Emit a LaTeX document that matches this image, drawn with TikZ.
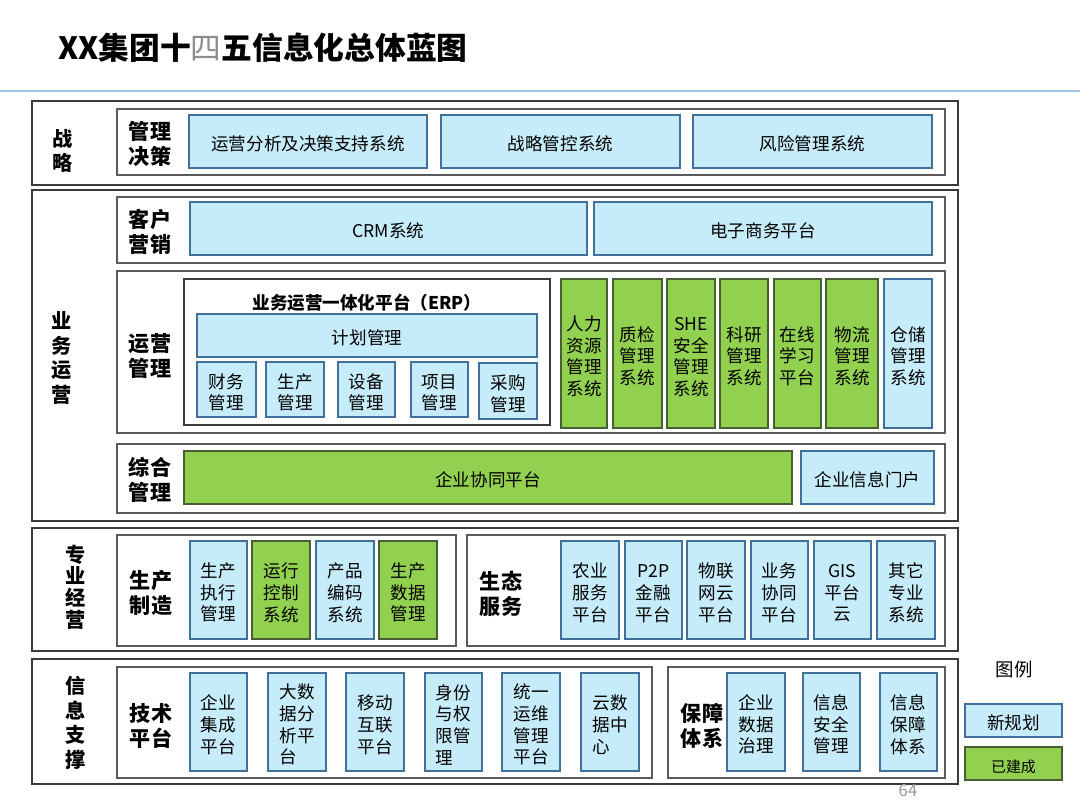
\documentclass[tikz,border=0pt]{standalone}
\usepackage{fontspec}
\setmainfont{Noto Sans CJK SC}
\usetikzlibrary{positioning}
\definecolor{planfill}{HTML}{C6ECFA}
\definecolor{planedge}{HTML}{41709A}
\definecolor{donefill}{HTML}{92D050}
\definecolor{doneedge}{HTML}{4A5E36}
\definecolor{framecol}{HTML}{3A3A3A}
\definecolor{groupcol}{HTML}{5A5A5A}
\definecolor{rulecol}{HTML}{9DC3E6}
\tikzset{
  layerbox/.style={draw=framecol, line width=0.9pt, fill=white, inner sep=0pt},
  groupbox/.style={draw=groupcol, line width=0.8pt, fill=white, inner sep=0pt},
  newsys/.style={
    draw=planedge,
    line width=0.6pt,
    fill=planfill,
    inner sep=0pt,
    align=center,
    font=\fontsize{10}{12.3}\selectfont
  },
  oldsys/.style={newsys, draw=doneedge, fill=donefill},
  layertitle/.style={align=center, font=\fontsize{11.5}{14}\selectfont\bfseries},
  grouptitle/.style={align=center, font=\fontsize{12}{14.2}\selectfont\bfseries}
}
% box from its corners (px): style, name, x1, y1, x2, y2, text
\newcommand{\blk}[7]{%
  \node[#1,minimum width={(#5-#3)*0.02cm},minimum height={(#6-#4)*0.02cm}]
    (#2) at ({(#3+#5)/2},{(#4+#6)/2}) {\rule{0pt}{11.5pt}#7};}

\begin{document}
\begin{tikzpicture}[x=0.02cm,y=-0.02cm]
\useasboundingbox (0,0) rectangle (1080,810);
% title
\node[anchor=west,font=\fontsize{17.5}{20}\selectfont\bfseries] (title) at (52,48)
  {XX集团十{\mdseries\color{black!45}四}五信息化总体蓝图};
\coordinate (ruleL) at (0,91);
\coordinate (ruleR) at (1080,91);
\draw[rulecol,line width=0.7pt] (ruleL) -- (ruleR);

% layers
\blk{layerbox}{strat}{32}{101}{958}{185}{}
\blk{layerbox}{biz}{32}{190}{958}{521}{}
\blk{layerbox}{prof}{32}{528}{958}{651}{}
\blk{layerbox}{info}{32}{659}{958}{784}{}
\node[layertitle] (stratLbl) at (63,151) {战\\略};
\node[layertitle] (bizLbl) at (62,358) {业\\务\\运\\营};
\node[layertitle,font=\fontsize{11.5}{12.4}\selectfont\bfseries] (profLbl) at (76,587) {专\\业\\经\\营};
\node[layertitle] (infoLbl) at (76,723) {信\\息\\支\\撑};

% strategy
\blk{groupbox}{decGrp}{117}{109}{945}{175}{}
\node[grouptitle] (decLbl) at (150,144) {管理\\决策};
\blk{newsys}{decSupport}{189}{115}{427}{168}{运营分析及决策支持系统}
\blk{newsys}{stratCtrl}{441}{115}{680}{168}{战略管控系统}
\blk{newsys}{riskMgmt}{693}{115}{932}{168}{风险管理系统}

% customer marketing
\blk{groupbox}{mktGrp}{117}{197}{945}{263}{}
\node[grouptitle] (mktLbl) at (150,232) {客户\\营销};
\blk{newsys}{crm}{190}{202}{587}{255}{CRM系统}
\blk{newsys}{ecom}{594}{202}{932}{255}{电子商务平台}

% operations
\blk{groupbox}{opsGrp}{117}{271}{945}{433}{}
\node[grouptitle] (opsLbl) at (150,356) {运营\\管理};
\blk{groupbox,draw=framecol}{erp}{184}{279}{550}{425}{}
\node[font=\fontsize{10}{12}\selectfont\bfseries] (erpLbl) at (367,303) {业务运营一体化平台（ERP）};
\blk{newsys}{plan}{197}{314}{537}{357}{计划管理}
\blk{newsys}{fin}{197}{362}{256}{417}{财务\\管理}
\blk{newsys}{prodM}{266}{362}{324}{417}{生产\\管理}
\blk{newsys}{equip}{338}{362}{395}{417}{设备\\管理}
\blk{newsys}{proj}{411}{362}{468}{417}{项目\\管理}
\blk{newsys}{purch}{479}{363}{537}{419}{采购\\管理}
\blk{oldsys}{hr}{561}{279}{607}{428}{人力\\资源\\管理\\系统}
\blk{oldsys}{qc}{613}{279}{662}{428}{质检\\管理\\系统}
\blk{oldsys}{she}{667}{279}{715}{428}{SHE\\安全\\管理\\系统}
\blk{oldsys}{rnd}{720}{279}{768}{428}{科研\\管理\\系统}
\blk{oldsys}{elearn}{774}{279}{821}{428}{在线\\学习\\平台}
\blk{oldsys}{logi}{826}{279}{878}{428}{物流\\管理\\系统}
\blk{newsys}{store}{884}{279}{932}{428}{仓储\\管理\\系统}

% general management
\blk{groupbox}{genGrp}{117}{444}{945}{513}{}
\node[grouptitle] (genLbl) at (150,480) {综合\\管理};
\blk{oldsys}{collab}{184}{451}{792}{504}{企业协同平台}
\blk{newsys}{portal}{801}{451}{934}{504}{企业信息门户}

% production
\blk{groupbox}{mfgGrp}{117}{535}{456}{646}{}
\node[grouptitle] (mfgLbl) at (151,593) {生产\\制造};
\blk{newsys}{mes}{190}{541}{247}{639}{生产\\执行\\管理}
\blk{oldsys}{runCtrl}{252}{541}{310}{639}{运行\\控制\\系统}
\blk{newsys}{coding}{316}{541}{374}{639}{产品\\编码\\系统}
\blk{oldsys}{prodData}{379}{541}{437}{639}{生产\\数据\\管理}

% ecosystem
\blk{groupbox}{ecoGrp}{467}{535}{945}{646}{}
\node[grouptitle] (ecoLbl) at (501,594) {生态\\服务};
\blk{newsys}{agri}{561}{541}{619}{639}{农业\\服务\\平台}
\blk{newsys}{ptp}{625}{541}{682}{639}{P2P\\金融\\平台}
\blk{newsys}{iot}{687}{541}{745}{639}{物联\\网云\\平台}
\blk{newsys}{bizCollab}{751}{541}{808}{639}{业务\\协同\\平台}
\blk{newsys}{gis}{814}{541}{871}{639}{GIS\\平台\\云}
\blk{newsys}{other}{877}{541}{935}{639}{其它\\专业\\系统}

% technology platform
\blk{groupbox}{techGrp}{117}{667}{652}{778}{}
\node[grouptitle] (techLbl) at (151,726) {技术\\平台};
\blk{newsys}{eai}{190}{673}{247}{771}{企业\\集成\\平台}
\blk{newsys,align=left}{bigData}{268}{673}{326}{771}{大数\\据分\\析平\\台}
\blk{newsys}{mobile}{346}{673}{404}{771}{移动\\互联\\平台}
\blk{newsys,align=left}{iam}{425}{673}{482}{771}{身份\\与权\\限管\\理}
\blk{newsys}{ops}{502}{673}{560}{771}{统一\\运维\\管理\\平台}
\blk{newsys,align=left}{cloud}{581}{673}{639}{771}{云数\\据中\\心}

% assurance
\blk{groupbox}{secGrp}{668}{667}{945}{778}{}
\node[grouptitle] (secLbl) at (702,726) {保障\\体系};
\blk{newsys}{gov}{727}{673}{785}{771}{企业\\数据\\治理}
\blk{newsys}{infosec}{803}{673}{860}{771}{信息\\安全\\管理}
\blk{newsys}{assure}{880}{673}{937}{771}{信息\\保障\\体系}

% legend
\node[font=\fontsize{10.5}{12}\selectfont] (legendLbl) at (1014,670) {图例};
\blk{newsys}{legNew}{965}{704}{1062}{737}{新规划}
\blk{oldsys,font=\fontsize{8.5}{10}\selectfont}{legDone}{965}{747}{1062}{780}{已建成}
\node[text=black!40,font=\fontsize{9.5}{11}\selectfont] (page) at (908,791) {64};
\end{tikzpicture}
\end{document}
